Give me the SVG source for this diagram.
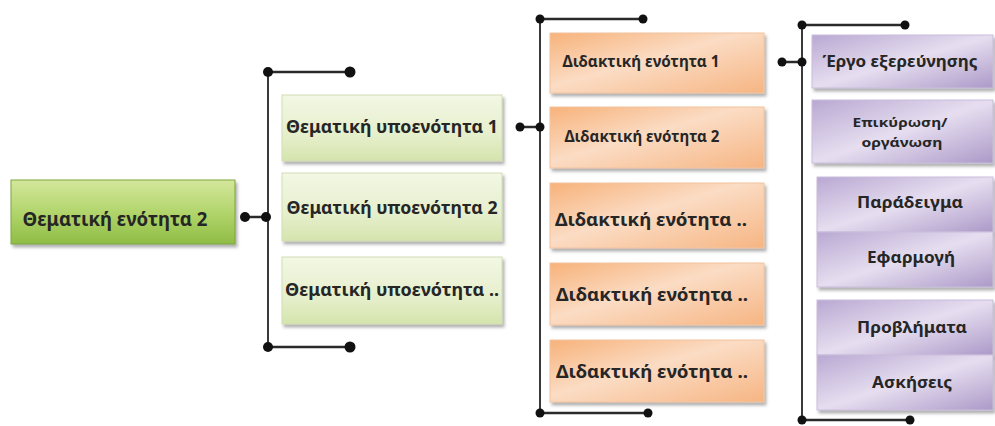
<svg xmlns="http://www.w3.org/2000/svg" width="995" height="426" viewBox="0 0 995 426">
<defs>
<linearGradient id="gGreen" x1="0" y1="0" x2="0" y2="1">
<stop offset="0" stop-color="#d4e79c"/><stop offset="0.5" stop-color="#b2d56c"/><stop offset="1" stop-color="#8fbd45"/>
</linearGradient>
<linearGradient id="gLight" x1="0" y1="0" x2="0" y2="1">
<stop offset="0" stop-color="#f3f7e4"/><stop offset="0.6" stop-color="#e6efcc"/><stop offset="1" stop-color="#d5e4ad"/>
</linearGradient>
<linearGradient id="gOrange" x1="0" y1="0" x2="1" y2="1">
<stop offset="0" stop-color="#f7b27a"/><stop offset="0.45" stop-color="#fbdcc4"/><stop offset="1" stop-color="#f6b583"/>
</linearGradient>
<linearGradient id="gPurple" x1="0" y1="0" x2="1" y2="1">
<stop offset="0" stop-color="#b9a8d2"/><stop offset="0.5" stop-color="#e6def0"/><stop offset="1" stop-color="#ac99c8"/>
</linearGradient>
<filter id="sh" x="-5%" y="-10%" width="115%" height="130%">
<feDropShadow dx="2" dy="3" stdDeviation="1.5" flood-color="#555" flood-opacity="0.45"/>
</filter>
</defs>
<style>
text{font-family:"Noto Sans","Open Sans","DejaVu Sans",sans-serif;font-weight:700;fill:#262626;text-anchor:middle}
.g{fill:url(#gGreen);stroke:#7ea53e;stroke-width:1}
.l{fill:url(#gLight);stroke:#d2ddb5;stroke-width:1}
.o{fill:url(#gOrange);stroke:#f1c4a0;stroke-width:1}
.p{fill:url(#gPurple);stroke:#c9bedb;stroke-width:1}
.ln{stroke:#2a2a2a;stroke-width:2.5;fill:none}
.vl{stroke:#3a3a3a;stroke-width:2;fill:none}
.d{fill:#111}
</style>
<rect width="995" height="426" fill="#fff"/>
<g id="connectors">
<line class="ln" x1="245" y1="217" x2="268" y2="217"/>
<line class="vl" x1="268" y1="72" x2="268" y2="347"/>
<line class="ln" x1="268" y1="72" x2="350" y2="72"/>
<line class="ln" x1="268" y1="347" x2="350" y2="347"/>
<line class="ln" x1="520" y1="127" x2="540" y2="127"/>
<line class="vl" x1="540" y1="19" x2="540" y2="413"/>
<line class="ln" x1="540" y1="19" x2="643" y2="19"/>
<line class="ln" x1="540" y1="413" x2="648" y2="413"/>
<line class="ln" x1="782" y1="62" x2="802" y2="62"/>
<line class="vl" x1="802" y1="25" x2="802" y2="420"/>
<line class="ln" x1="802" y1="25" x2="905" y2="25"/>
<line class="ln" x1="802" y1="420" x2="910" y2="420"/>
<circle class="d" cx="245" cy="217" r="5"/><circle class="d" cx="266" cy="217" r="5"/>
<circle class="d" cx="268" cy="72" r="5"/><circle class="d" cx="350" cy="72" r="5.5"/>
<circle class="d" cx="268" cy="347" r="5"/><circle class="d" cx="350" cy="347" r="5.5"/>
<circle class="d" cx="520" cy="127" r="4.5"/><circle class="d" cx="540" cy="127" r="4.5"/>
<circle class="d" cx="540" cy="19" r="4.5"/><circle class="d" cx="643" cy="19" r="4.5"/>
<circle class="d" cx="540" cy="413" r="4.5"/><circle class="d" cx="648" cy="413" r="4.5"/>
<circle class="d" cx="782" cy="62" r="4.5"/><circle class="d" cx="802" cy="62" r="4.5"/>
<circle class="d" cx="802" cy="25" r="4.5"/><circle class="d" cx="905" cy="25" r="4.5"/>
<circle class="d" cx="802" cy="420" r="4.5"/><circle class="d" cx="910" cy="420" r="4.5"/>
</g>
<g id="n-theme2"><rect class="g" x="11" y="180" width="224" height="64" filter="url(#sh)"/><text x="115" y="226" font-size="19" fill="#1d2a12" textLength="185" lengthAdjust="spacingAndGlyphs">Θεματική ενότητα 2</text></g>
<g id="n-sub1"><rect class="l" x="282" y="95" width="220" height="66" filter="url(#sh)"/><text x="392" y="133" font-size="18" textLength="212" lengthAdjust="spacingAndGlyphs">Θεματική υποενότητα 1</text></g>
<g id="n-sub2"><rect class="l" x="282" y="173" width="220" height="68" filter="url(#sh)"/><text x="392" y="214" font-size="18" textLength="211" lengthAdjust="spacingAndGlyphs">Θεματική υποενότητα 2</text></g>
<g id="n-sub3"><rect class="l" x="282" y="257" width="220" height="67" filter="url(#sh)"/><text x="392" y="296" font-size="18" textLength="214" lengthAdjust="spacingAndGlyphs">Θεματική υποενότητα ..</text></g>
<g id="n-did1"><rect class="o" x="550" y="33" width="214" height="60" filter="url(#sh)"/><text x="641" y="67" font-size="16" textLength="157" lengthAdjust="spacingAndGlyphs">Διδακτική ενότητα 1</text></g>
<g id="n-did2"><rect class="o" x="550" y="107" width="214" height="61" filter="url(#sh)"/><text x="642" y="142" font-size="16" textLength="155" lengthAdjust="spacingAndGlyphs">Διδακτική ενότητα 2</text></g>
<g id="n-did3"><rect class="o" x="550" y="183" width="214" height="65" filter="url(#sh)"/><text x="651" y="226" font-size="18" textLength="192" lengthAdjust="spacingAndGlyphs">Διδακτική ενότητα ..</text></g>
<g id="n-did4"><rect class="o" x="550" y="263" width="214" height="62" filter="url(#sh)"/><text x="652" y="301" font-size="18" textLength="192" lengthAdjust="spacingAndGlyphs">Διδακτική ενότητα ..</text></g>
<g id="n-did5"><rect class="o" x="550" y="340" width="214" height="62" filter="url(#sh)"/><text x="652" y="378" font-size="18" textLength="192" lengthAdjust="spacingAndGlyphs">Διδακτική ενότητα ..</text></g>
<g id="n-ergo"><rect class="p" x="812" y="35" width="181" height="53" filter="url(#sh)"/><text x="900" y="67" font-size="16.5" textLength="155" lengthAdjust="spacingAndGlyphs">Έργο εξερεύνησης</text></g>
<g id="n-epik"><rect class="p" x="812" y="100" width="181" height="63" filter="url(#sh)"/><text x="900" y="127" font-size="13" textLength="95" lengthAdjust="spacingAndGlyphs">Επικύρωση/</text><text x="902" y="147" font-size="13" textLength="81" lengthAdjust="spacingAndGlyphs">οργάνωση</text></g>
<g id="n-parad"><rect class="p" x="817" y="177" width="176" height="55" filter="url(#sh)"/><text x="910" y="208" font-size="16.5" textLength="106" lengthAdjust="spacingAndGlyphs">Παράδειγμα</text></g>
<g id="n-efarm"><rect class="p" x="817" y="232" width="176" height="55" filter="url(#sh)"/><text x="911" y="263" font-size="16.5" textLength="88" lengthAdjust="spacingAndGlyphs">Εφαρμογή</text></g>
<g id="n-provl"><rect class="p" x="817" y="300" width="176" height="55" filter="url(#sh)"/><text x="912" y="333" font-size="16.5" textLength="110" lengthAdjust="spacingAndGlyphs">Προβλήματα</text></g>
<g id="n-ask"><rect class="p" x="817" y="355" width="176" height="55" filter="url(#sh)"/><text x="912" y="388" font-size="16.5" textLength="80" lengthAdjust="spacingAndGlyphs">Ασκήσεις</text></g>
</svg>
